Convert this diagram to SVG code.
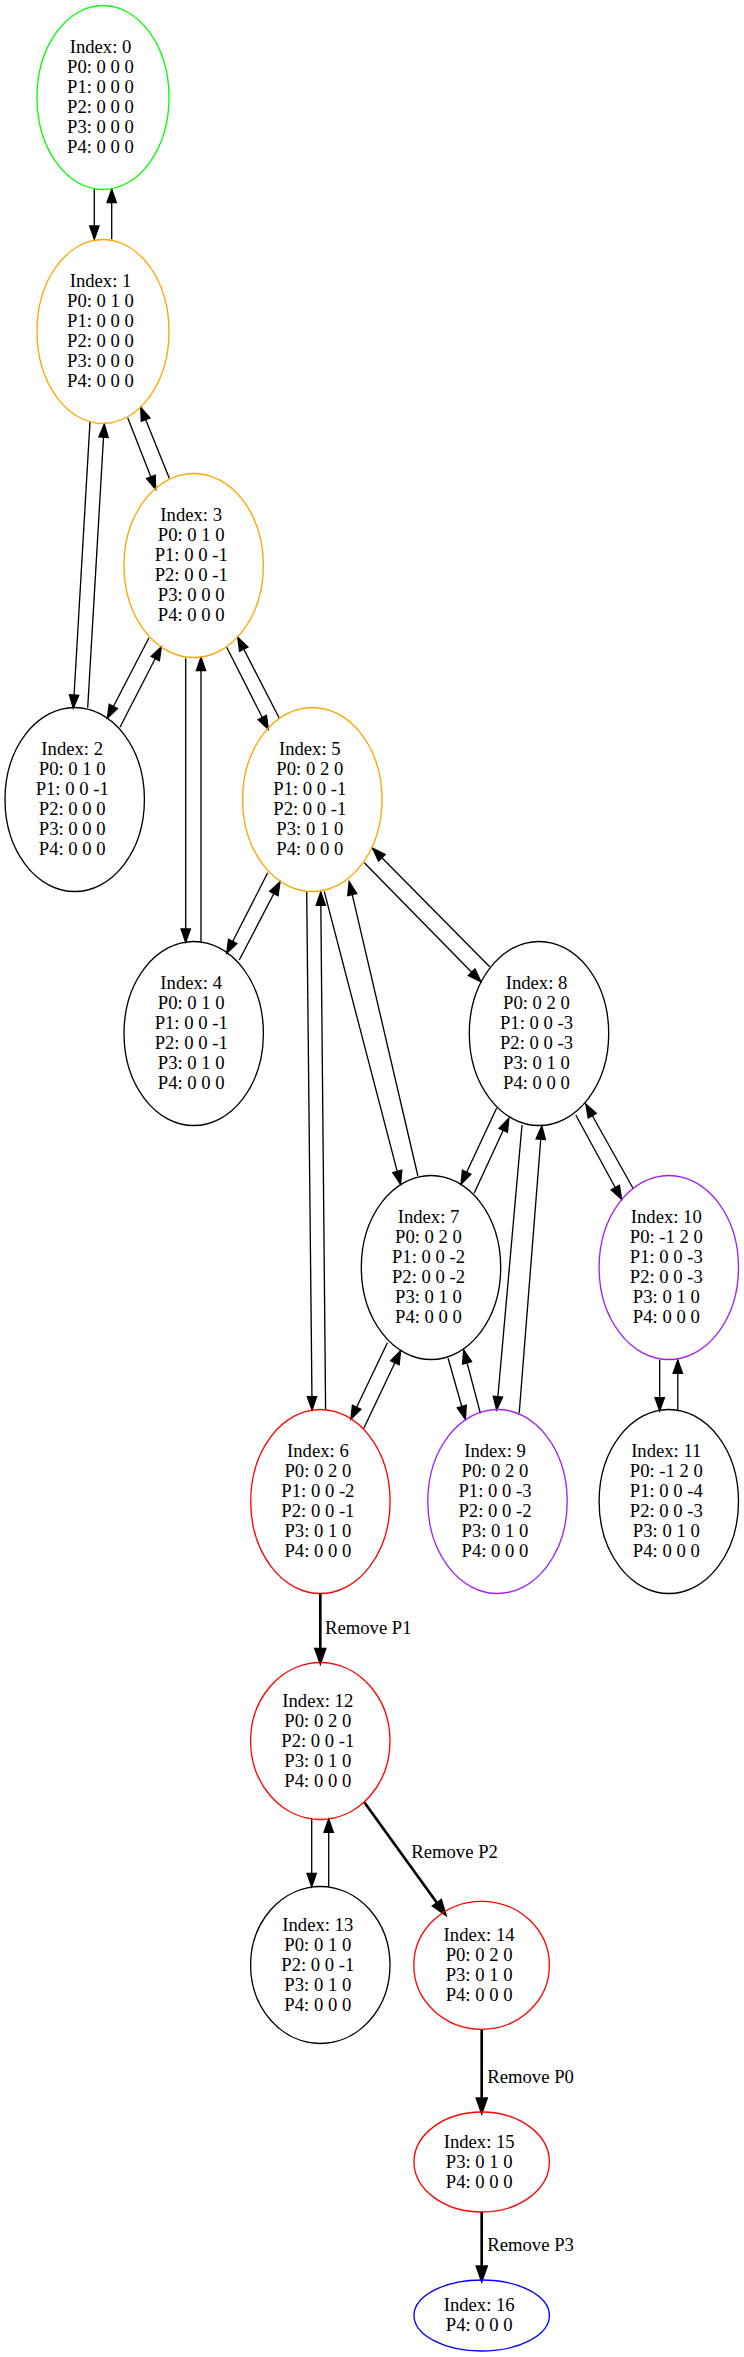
<svg xmlns="http://www.w3.org/2000/svg" width="744" height="2357" viewBox="0 0 744 2357">
<style>
text{font-family:"Liberation Serif","Times New Roman",serif;font-size:18.67px;fill:#000}
.n text{text-anchor:middle}
ellipse{fill:none;stroke-width:1.33}
.k{stroke:#000}.g{stroke:#00ff00}.o{stroke:#ffa500}.r{stroke:#ff0000}.p{stroke:#a020f0}.b{stroke:#0000ff}
#edges line{stroke:#000;stroke-width:1.33;fill:none;marker-end:url(#ah)}
#edges line.bold{stroke-width:2.67;marker-end:url(#ahb)}
</style>
<defs>
<marker id="ah" markerUnits="userSpaceOnUse" markerWidth="16" markerHeight="12" refX="13.3" refY="4.67" orient="auto" style="overflow:visible"><path d="M0,0 L13.3,4.67 L0,9.33 Z" fill="#000" stroke="#000" stroke-width="1.33"/></marker>
<marker id="ahb" markerUnits="userSpaceOnUse" markerWidth="16" markerHeight="12" refX="13.3" refY="4.67" orient="auto" style="overflow:visible"><path d="M0,0 L13.3,4.67 L0,9.33 Z" fill="#000" stroke="#000" stroke-width="2.67"/></marker>
</defs>
<rect width="744" height="2357" fill="#fff"/>
<g id="edges">
<line x1="94.3" y1="189.3" x2="94.3" y2="239.3"/>
<line x1="111.7" y1="239.3" x2="111.7" y2="189.3"/>
<line x1="90" y1="421.7" x2="73.3" y2="708.3"/>
<line x1="87.7" y1="707.7" x2="104.3" y2="424"/>
<line x1="127.7" y1="417.7" x2="155.7" y2="489.3"/>
<line x1="169.3" y1="478.3" x2="140.7" y2="407.3"/>
<line x1="149" y1="637.7" x2="107.3" y2="718.3"/>
<line x1="120" y1="727.3" x2="161.3" y2="646.7"/>
<line x1="185.7" y1="658.3" x2="185.7" y2="942.3"/>
<line x1="201" y1="941.7" x2="201" y2="657.3"/>
<line x1="226.7" y1="647.3" x2="268.3" y2="729.3"/>
<line x1="279.3" y1="718.3" x2="237.7" y2="637.3"/>
<line x1="267.7" y1="872.7" x2="226.7" y2="953.3"/>
<line x1="239.3" y1="960" x2="280" y2="881.7"/>
<line x1="306.7" y1="892" x2="312.1" y2="1410"/>
<line x1="325.6" y1="1409.3" x2="320.7" y2="892"/>
<line x1="324.3" y1="891.7" x2="400.6" y2="1184.3"/>
<line x1="417.9" y1="1176" x2="349.2" y2="881.7"/>
<line x1="364.3" y1="862.7" x2="481" y2="981.7"/>
<line x1="489.7" y1="966.7" x2="372.5" y2="848.3"/>
<line x1="496.7" y1="1108" x2="461" y2="1184.3"/>
<line x1="474.1" y1="1193.3" x2="508.8" y2="1118.3"/>
<line x1="522" y1="1125" x2="496.7" y2="1410"/>
<line x1="519.2" y1="1413.3" x2="541.8" y2="1126"/>
<line x1="575.8" y1="1115" x2="621.6" y2="1199.3"/>
<line x1="633" y1="1188.3" x2="585.8" y2="1104"/>
<line x1="387.4" y1="1342.7" x2="350.9" y2="1419.3"/>
<line x1="363.8" y1="1428.3" x2="400.6" y2="1350.7"/>
<line x1="448.1" y1="1358.3" x2="465.4" y2="1419.3"/>
<line x1="480.4" y1="1413.3" x2="463.7" y2="1350"/>
<line x1="659.7" y1="1360" x2="659.7" y2="1411"/>
<line x1="677.8" y1="1411" x2="677.8" y2="1360"/>
<line class="bold" x1="320.3" y1="1593.5" x2="320.3" y2="1662.3"/>
<line x1="311.7" y1="1819" x2="311.7" y2="1886.7"/>
<line x1="328.7" y1="1886.7" x2="328.7" y2="1819"/>
<line class="bold" x1="364.3" y1="1802.3" x2="445" y2="1914"/>
<line class="bold" x1="481.7" y1="2029.3" x2="481.7" y2="2112"/>
<line class="bold" x1="481.7" y1="2211.7" x2="481.7" y2="2280"/>
<text x="325" y="1634">Remove P1</text>
<text x="411.3" y="1858.3">Remove P2</text>
<text x="487.3" y="2082.7">Remove P0</text>
<text x="487.3" y="2251">Remove P3</text>
</g>
<g id="node0" class="n"><ellipse class="g" cx="103" cy="97.5" rx="66" ry="92"/>
<text x="100.5" y="53.1">Index: 0</text><text x="100.5" y="73.1">P0: 0 0 0</text><text x="100.5" y="93.1">P1: 0 0 0</text><text x="100.5" y="113.1">P2: 0 0 0</text><text x="100.5" y="133.1">P3: 0 0 0</text><text x="100.5" y="153.1">P4: 0 0 0</text></g>
<g id="node1" class="n"><ellipse class="o" cx="103" cy="331.5" rx="66" ry="92"/>
<text x="100.5" y="287.1">Index: 1</text><text x="100.5" y="307.1">P0: 0 1 0</text><text x="100.5" y="327.1">P1: 0 0 0</text><text x="100.5" y="347.1">P2: 0 0 0</text><text x="100.5" y="367.1">P3: 0 0 0</text><text x="100.5" y="387.1">P4: 0 0 0</text></g>
<g id="node3" class="n"><ellipse class="o" cx="193.7" cy="565.5" rx="69.7" ry="92"/>
<text x="191.2" y="521.1">Index: 3</text><text x="191.2" y="541.1">P0: 0 1 0</text><text x="191.2" y="561.1">P1: 0 0 -1</text><text x="191.2" y="581.1">P2: 0 0 -1</text><text x="191.2" y="601.1">P3: 0 0 0</text><text x="191.2" y="621.1">P4: 0 0 0</text></g>
<g id="node2" class="n"><ellipse class="k" cx="74.7" cy="799.5" rx="69.7" ry="92"/>
<text x="72.2" y="755.1">Index: 2</text><text x="72.2" y="775.1">P0: 0 1 0</text><text x="72.2" y="795.1">P1: 0 0 -1</text><text x="72.2" y="815.1">P2: 0 0 0</text><text x="72.2" y="835.1">P3: 0 0 0</text><text x="72.2" y="855.1">P4: 0 0 0</text></g>
<g id="node5" class="n"><ellipse class="o" cx="312.3" cy="799.5" rx="69.7" ry="92"/>
<text x="309.8" y="755.1">Index: 5</text><text x="309.8" y="775.1">P0: 0 2 0</text><text x="309.8" y="795.1">P1: 0 0 -1</text><text x="309.8" y="815.1">P2: 0 0 -1</text><text x="309.8" y="835.1">P3: 0 1 0</text><text x="309.8" y="855.1">P4: 0 0 0</text></g>
<g id="node4" class="n"><ellipse class="k" cx="193.7" cy="1033.5" rx="69.7" ry="92"/>
<text x="191.2" y="989.1">Index: 4</text><text x="191.2" y="1009.1">P0: 0 1 0</text><text x="191.2" y="1029.1">P1: 0 0 -1</text><text x="191.2" y="1049.1">P2: 0 0 -1</text><text x="191.2" y="1069.1">P3: 0 1 0</text><text x="191.2" y="1089.1">P4: 0 0 0</text></g>
<g id="node8" class="n"><ellipse class="k" cx="539" cy="1033.5" rx="69.7" ry="92"/>
<text x="536.5" y="989.1">Index: 8</text><text x="536.5" y="1009.1">P0: 0 2 0</text><text x="536.5" y="1029.1">P1: 0 0 -3</text><text x="536.5" y="1049.1">P2: 0 0 -3</text><text x="536.5" y="1069.1">P3: 0 1 0</text><text x="536.5" y="1089.1">P4: 0 0 0</text></g>
<g id="node7" class="n"><ellipse class="k" cx="431" cy="1267.5" rx="69.7" ry="92"/>
<text x="428.5" y="1223.1">Index: 7</text><text x="428.5" y="1243.1">P0: 0 2 0</text><text x="428.5" y="1263.1">P1: 0 0 -2</text><text x="428.5" y="1283.1">P2: 0 0 -2</text><text x="428.5" y="1303.1">P3: 0 1 0</text><text x="428.5" y="1323.1">P4: 0 0 0</text></g>
<g id="node10" class="n"><ellipse class="p" cx="668.8" cy="1267.5" rx="69.7" ry="92"/>
<text x="666.3" y="1223.1">Index: 10</text><text x="666.3" y="1243.1">P0: -1 2 0</text><text x="666.3" y="1263.1">P1: 0 0 -3</text><text x="666.3" y="1283.1">P2: 0 0 -3</text><text x="666.3" y="1303.1">P3: 0 1 0</text><text x="666.3" y="1323.1">P4: 0 0 0</text></g>
<g id="node6" class="n"><ellipse class="r" cx="320.4" cy="1501.5" rx="69.7" ry="92"/>
<text x="317.9" y="1457.1">Index: 6</text><text x="317.9" y="1477.1">P0: 0 2 0</text><text x="317.9" y="1497.1">P1: 0 0 -2</text><text x="317.9" y="1517.1">P2: 0 0 -1</text><text x="317.9" y="1537.1">P3: 0 1 0</text><text x="317.9" y="1557.1">P4: 0 0 0</text></g>
<g id="node9" class="n"><ellipse class="p" cx="497.5" cy="1501.5" rx="69.7" ry="92"/>
<text x="495" y="1457.1">Index: 9</text><text x="495" y="1477.1">P0: 0 2 0</text><text x="495" y="1497.1">P1: 0 0 -3</text><text x="495" y="1517.1">P2: 0 0 -2</text><text x="495" y="1537.1">P3: 0 1 0</text><text x="495" y="1557.1">P4: 0 0 0</text></g>
<g id="node11" class="n"><ellipse class="k" cx="668.8" cy="1501.5" rx="69.7" ry="92"/>
<text x="666.3" y="1457.1">Index: 11</text><text x="666.3" y="1477.1">P0: -1 2 0</text><text x="666.3" y="1497.1">P1: 0 0 -4</text><text x="666.3" y="1517.1">P2: 0 0 -3</text><text x="666.3" y="1537.1">P3: 0 1 0</text><text x="666.3" y="1557.1">P4: 0 0 0</text></g>
<g id="node12" class="n"><ellipse class="r" cx="320.3" cy="1741" rx="69.7" ry="78.5"/>
<text x="317.8" y="1706.6">Index: 12</text><text x="317.8" y="1726.6">P0: 0 2 0</text><text x="317.8" y="1746.6">P2: 0 0 -1</text><text x="317.8" y="1766.6">P3: 0 1 0</text><text x="317.8" y="1786.6">P4: 0 0 0</text></g>
<g id="node13" class="n"><ellipse class="k" cx="320.3" cy="1965" rx="69.7" ry="78.5"/>
<text x="317.8" y="1930.6">Index: 13</text><text x="317.8" y="1950.6">P0: 0 1 0</text><text x="317.8" y="1970.6">P2: 0 0 -1</text><text x="317.8" y="1990.6">P3: 0 1 0</text><text x="317.8" y="2010.6">P4: 0 0 0</text></g>
<g id="node14" class="n"><ellipse class="r" cx="481.6" cy="1965.3" rx="67.8" ry="64"/>
<text x="479.1" y="1940.9">Index: 14</text><text x="479.1" y="1960.9">P0: 0 2 0</text><text x="479.1" y="1980.9">P3: 0 1 0</text><text x="479.1" y="2000.9">P4: 0 0 0</text></g>
<g id="node15" class="n"><ellipse class="r" cx="481.7" cy="2162" rx="67.7" ry="50"/>
<text x="479.2" y="2147.6">Index: 15</text><text x="479.2" y="2167.6">P3: 0 1 0</text><text x="479.2" y="2187.6">P4: 0 0 0</text></g>
<g id="node16" class="n"><ellipse class="b" cx="481.7" cy="2315.5" rx="67.7" ry="35.5"/>
<text x="479.2" y="2311.1">Index: 16</text><text x="479.2" y="2331.1">P4: 0 0 0</text></g>
</svg>
